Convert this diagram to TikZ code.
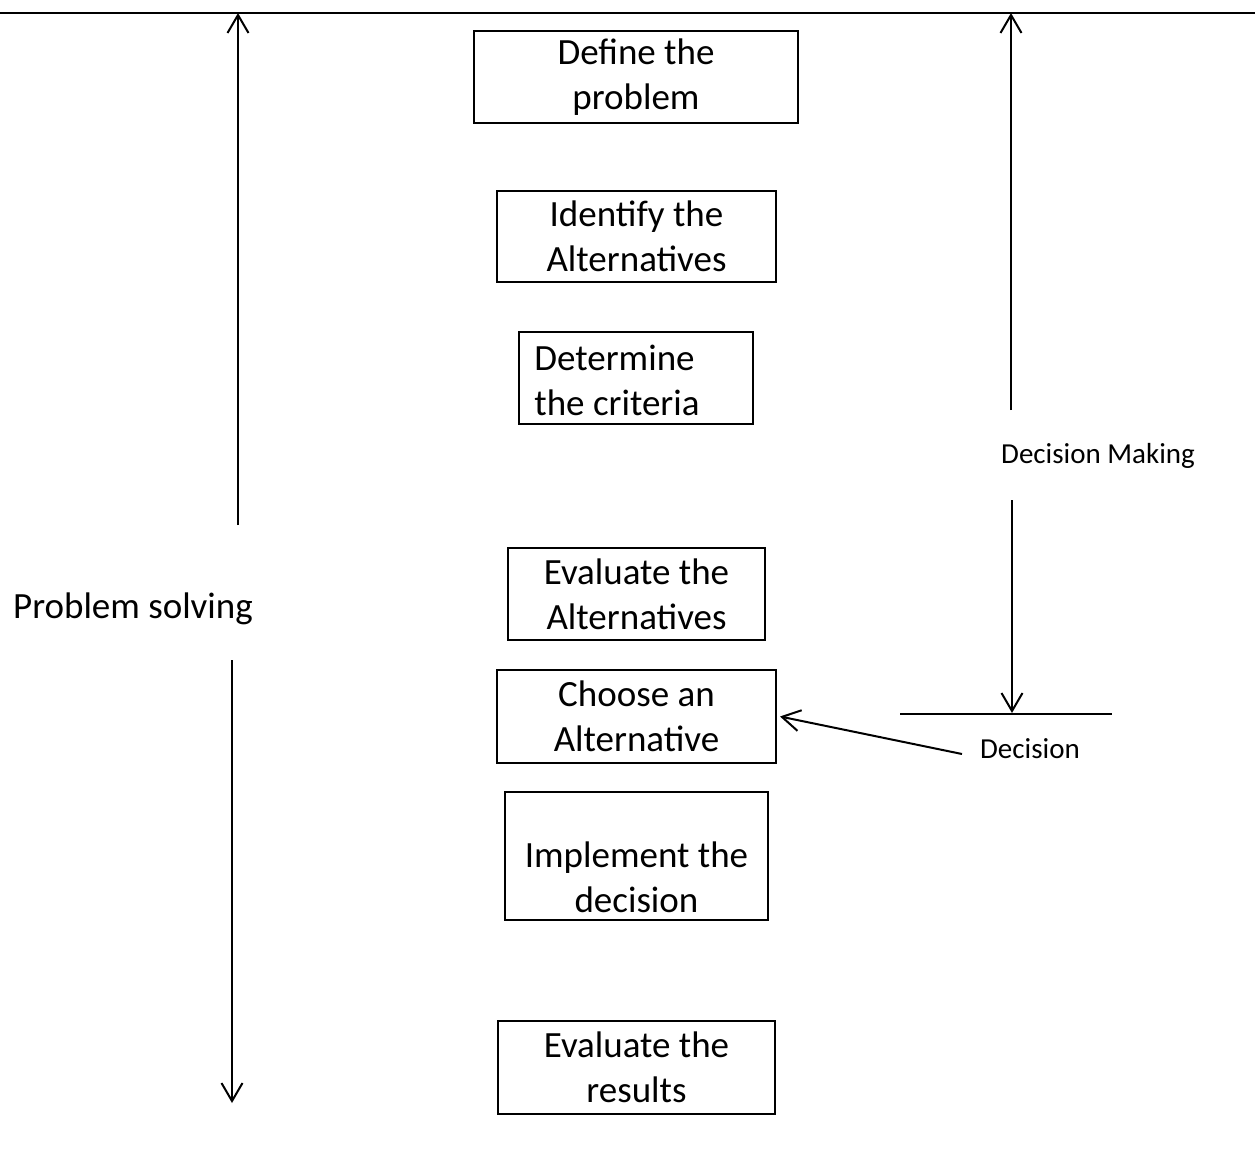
\documentclass[tikz,border=0pt]{standalone}
\usepackage{fontspec}
\setmainfont{Carlito}
\usetikzlibrary{arrows.meta}

\tikzset{
  stepbox/.style={draw, line width=1pt, align=center, inner sep=0pt,
    font=\fontsize{18.5}{22.5}\selectfont},
  bigtext/.style={font=\fontsize{18.5}{22.5}\selectfont},
  smalltext/.style={font=\fontsize{14.5}{17.5}\selectfont},
  pointer/.style={line width=1pt, -{Straight Barb[length=9pt,width=10.5pt,line width=1pt]}},
}

\begin{document}
\begin{tikzpicture}[x=0.5pt, y=-0.5pt]
\useasboundingbox (0,0) rectangle (1255,1173);
%%   kw   (name)   (x, y)   {text}
    \node[stepbox, minimum width=162pt, minimum height=46pt]   (define) at (636, 77)      {Define the\\problem};
    \node[stepbox, minimum width=139.5pt, minimum height=45.5pt] (identify) at (636.5, 236.5) {Identify the\\Alternatives};
    \node[stepbox, minimum width=117pt, minimum height=46pt] (criteria) at (636, 378) {};
    \node[bigtext, align=left, anchor=west, inner sep=0pt] (crittext) at (534, 380) {Determine\\the criteria};
    \node[stepbox, minimum width=128.5pt, minimum height=46pt] (evalalt) at (636.5, 594)  {Evaluate the\\Alternatives};
    \node[stepbox, minimum width=139.5pt, minimum height=46.5pt] (choose) at (636.5, 716.5) {Choose an\\Alternative};
    \node[stepbox, minimum width=131.5pt, minimum height=64pt] (implement) at (636.5, 856) {};
    \node[bigtext, align=center] (impltext) at (636.5, 877) {Implement the\\decision};
    \node[stepbox, minimum width=138.5pt, minimum height=46.5pt] (results) at (636.5, 1067.5) {Evaluate the\\results};

    \node[bigtext] (solving) at (133, 609) {Problem solving};
    \node[smalltext] (making) at (1098, 456) {Decision Making};
    \node[smalltext] (decision) at (1030, 749) {Decision};

    \coordinate (topl) at (0, 13);
    \coordinate (topr) at (1255, 13);
    \coordinate (psup) at (238, 13);
    \coordinate (psupfrom) at (238, 525);
    \coordinate (psdown) at (232, 1103);
    \coordinate (psdownfrom) at (232, 660);
    \coordinate (dmup) at (1011, 13);
    \coordinate (dmupfrom) at (1011, 410);
    \coordinate (dmdown) at (1012, 713);
    \coordinate (dmdownfrom) at (1012, 500);
    \coordinate (decl) at (900, 714);
    \coordinate (decr) at (1112, 714);
    \coordinate (decfrom) at (962, 754);

    \draw[line width=1pt] (topl) -- (topr);
    \draw[line width=1pt] (decl) -- (decr);
    \draw[pointer] (psupfrom) -- (psup);
    \draw[pointer] (psdownfrom) -- (psdown);
    \draw[pointer] (dmupfrom) -- (dmup);
    \draw[pointer] (dmdownfrom) -- (dmdown);
    \draw[pointer] (decfrom) -- ([xshift=1.5pt]choose.east);
\end{tikzpicture}
\end{document}
